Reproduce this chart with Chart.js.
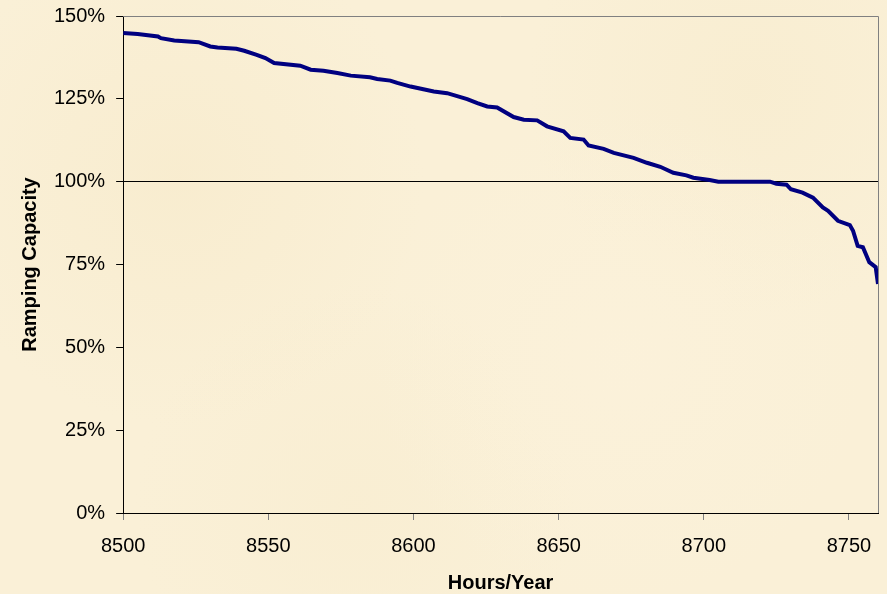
<!DOCTYPE html>
<html>
<head>
<meta charset="utf-8">
<script src="https://cdn.jsdelivr.net/npm/chart.js@4"></script>
<style>
  html, body { margin: 0; padding: 0; }
  body {
    width: 887px; height: 594px; overflow: hidden;
    background-color: #faf0d7;
    background-image:
      radial-gradient(circle at 20% 30%, rgba(246, 232, 198, 0.45), transparent 30%),
      radial-gradient(circle at 70% 60%, rgba(252, 242, 220, 0.6), transparent 35%),
      radial-gradient(circle at 85% 15%, rgba(246, 233, 200, 0.4), transparent 25%),
      radial-gradient(circle at 40% 85%, rgba(247, 235, 204, 0.4), transparent 30%);
  }
  canvas { display: block; }
</style>
</head>
<body>
<canvas id="chart" width="887" height="594"></canvas>
<script>
// values (top 260 hours of the year)
const hours = [8500, 8505, 8512, 8513, 8517.6, 8526, 8530, 8532.5, 8539, 8541.7,
  8546, 8549, 8552, 8561, 8564.6, 8569, 8573.8, 8578.4, 8585, 8587.5,
  8592, 8594.4, 8599, 8607, 8611.6, 8618.5, 8622, 8625.4, 8628.8, 8634.5,
  8638, 8642.6, 8646, 8651.7, 8654, 8658.6, 8660.3, 8665.5, 8669, 8675.8,
  8680.4, 8685, 8689.5, 8694, 8696.4, 8702, 8705, 8722.8, 8725, 8728.5,
  8730, 8734, 8737.6, 8741, 8742.8, 8746.2, 8750.3, 8751.4, 8753, 8754.8,
  8757, 8759.2, 8760];
const capacity = [144.9, 144.6, 143.8, 143.3, 142.6, 142.1, 140.8, 140.5, 140.1, 139.5,
  138.3, 137.3, 135.8, 135.0, 133.8, 133.5, 132.8, 132.0, 131.5, 131.0,
  130.5, 129.8, 128.7, 127.2, 126.7, 124.9, 123.7, 122.7, 122.4, 119.5,
  118.7, 118.5, 116.7, 115.2, 113.2, 112.7, 110.9, 109.9, 108.7, 107.2,
  105.7, 104.5, 102.7, 101.9, 101.2, 100.5, 100.0, 100.0, 99.4, 99.1,
  97.7, 96.7, 95.2, 92.2, 91.2, 88.2, 86.9, 85.2, 80.6, 80.2,
  75.7, 74.2, 69.1];
const xTicks = [8500, 8550, 8600, 8650, 8700, 8750];
const yTicks = [0, 25, 50, 75, 100, 125, 150];

const font = { family: "Arial, 'Liberation Sans', sans-serif", size: 20 };

// grey frame on the top and right of the plot area
const framePlugin = {
  id: 'frame',
  afterDraw(chart) {
    const { ctx, chartArea } = chart;
    ctx.save();
    ctx.strokeStyle = '#808080';
    ctx.lineWidth = 1;
    ctx.beginPath();
    ctx.moveTo(chartArea.left, chartArea.top + 0.5);
    ctx.lineTo(chartArea.right + 0.5, chartArea.top + 0.5);
    ctx.lineTo(chartArea.right + 0.5, chartArea.bottom);
    ctx.stroke();
    ctx.restore();
  }
};

new Chart(document.getElementById('chart'), {
  type: 'line',
  data: {
    datasets: [{
      data: hours.map((h, i) => ({ x: h, y: capacity[i] })),
      borderColor: '#000080',
      borderWidth: 4,
      pointRadius: 0,
      tension: 0,
      fill: false
    }]
  },
  options: {
    responsive: false,
    animation: false,
    layout: { autoPadding: false, padding: { left: 18, right: 9, top: 16, bottom: 0 } },
    plugins: { legend: { display: false }, tooltip: { enabled: false } },
    scales: {
      x: {
        type: 'linear',
        min: 8500,
        max: 8760,
        afterBuildTicks: (scale) => { scale.ticks = xTicks.map(v => ({ value: v })); },
        ticks: { color: '#000', font: font, padding: 14, maxRotation: 0, callback: (v) => String(v) },
        grid: { drawOnChartArea: false, tickLength: 7, tickColor: '#808080' },
        border: { color: '#000', width: 1 },
        title: { display: true, text: 'Hours/Year', color: '#000',
                 font: { ...font, weight: 'bold', lineHeight: 1.1 }, padding: { top: 0, bottom: 0 } }
      },
      y: {
        min: 0,
        max: 150,
        afterBuildTicks: (scale) => { scale.ticks = yTicks.map(v => ({ value: v })); },
        ticks: { color: '#000', font: { ...font, lineHeight: 0.5 }, padding: 11, callback: (v) => v + '%' },
        grid: {
          tickLength: 7,
          tickColor: '#000',
          color: (c) => c.tick && c.tick.value === 100 ? '#000' : 'rgba(0,0,0,0)'
        },
        border: { color: '#000', width: 1 },
        title: { display: true, text: 'Ramping Capacity', color: '#000',
                 font: { ...font, weight: 'bold' }, padding: { top: 0, bottom: 1 } }
      }
    }
  },
  plugins: [framePlugin]
});
</script>
</body>
</html>
